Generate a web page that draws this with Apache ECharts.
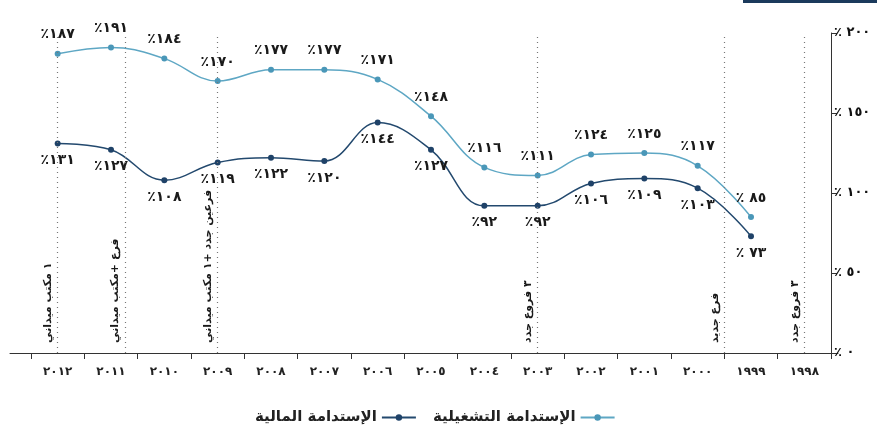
<!DOCTYPE html>
<html>
<head>
<meta charset="utf-8">
<script src="https://cdn.jsdelivr.net/npm/echarts@6/dist/echarts.min.js"></script>
<style>
html,body{margin:0;padding:0;background:#fff;}
#chart{width:877px;height:432px;}
</style>
</head>
<body>
<div id="chart"></div>
<script>
// ---- data ----
var years = [2012, 2011, 2010, 2009, 2008, 2007, 2006, 2005, 2004, 2003, 2002, 2001, 2000, 1999, 1998];
var operational = [187, 191, 184, 170, 177, 177, 171, 148, 116, 111, 124, 125, 117, 85, null]; // الإستدامة التشغيلية
var financial   = [131, 127, 108, 119, 122, 120, 144, 127, 92, 92, 106, 109, 103, 73, null];   // الإستدامة المالية
var yTicks = [0, 50, 100, 150, 200];
var eventPositions = [0, 1.26, 3, 9, 12.5, 14];
var eventTexts = ['١ مكتب ميداني', 'فرع +مكتب ميداني', 'فرعين جدد +١ مكتب ميداني', '٣ فروع جدد', 'فرع جديد', '٣ فروع جدد'];
var seriesNames = ['الإستدامة المالية', 'الإستدامة التشغيلية'];

function ar(n) {
  return String(n).replace(/\d/g, function (d) { return '٠١٢٣٤٥٦٧٨٩'[+d]; });
}
function pct(v, idx) {
  return '٪' + (idx === 13 ? ' ' : '') + ar(v);
}

var FONT = 'DejaVu Sans';
var chart = echarts.init(document.getElementById('chart'));
chart.setOption({
  animation: false,
  textStyle: { fontFamily: FONT },
  graphic: [{
    type: 'rect', right: 0, top: 0,
    shape: { width: 134, height: 3 },
    style: { fill: '#1b3a5c' }
  }],
  grid: [
    { left: 31, right: 46, top: 33, bottom: 79 },
    { left: 10, right: 39, top: 33, bottom: 79 }
  ],
  legend: {
    data: seriesNames,
    bottom: 2,
    left: 250,
    align: 'right',
    itemWidth: 34,
    itemHeight: 8,
    itemGap: 16,
    textStyle: { fontFamily: FONT, fontWeight: 'bold', fontSize: 15, color: '#222' }
  },
  xAxis: [{
    type: 'category',
    gridIndex: 0,
    data: years.map(ar),
    boundaryGap: true,
    axisLine: { show: false },
    axisTick: { show: true, length: 6, lineStyle: { color: '#333' } },
    axisLabel: { fontFamily: FONT, fontWeight: 'bold', fontSize: 12, color: '#222', margin: 13, interval: 0 }
  }, {
    type: 'value', gridIndex: 0, min: -0.5, max: 14.5, show: false
  }, {
    type: 'value', gridIndex: 1, min: 0, max: 1,
    axisLine: { show: true, onZero: false, lineStyle: { color: '#333', width: 1 } },
    axisTick: { show: false }, axisLabel: { show: false }, splitLine: { show: false }
  }],
  yAxis: [{
    type: 'value',
    gridIndex: 0,
    position: 'right',
    min: 0, max: 200, interval: 50,
    axisLine: { show: true, onZero: false, lineStyle: { color: '#333' } },
    axisTick: { show: true, length: 6, lineStyle: { color: '#333' } },
    splitLine: { show: false },
    axisLabel: {
      fontFamily: FONT, fontWeight: 'bold', fontSize: 13, color: '#111', margin: 3,
      formatter: function (v) { return yTicks.indexOf(v) >= 0 ? '٪ ' + ar(v) : ''; }
    }
  }, {
    type: 'value', gridIndex: 1, min: 0, max: 1, show: false
  }],
  series: [{
    name: seriesNames[0],
    type: 'line',
    xAxisIndex: 0, yAxisIndex: 0,
    data: financial,
    smooth: 0.4,
    symbol: 'circle', symbolSize: 6,
    lineStyle: { color: '#23496e', width: 1.5 },
    itemStyle: { color: '#1f4268' },
    label: {
      show: true, position: 'bottom', distance: 7,
      fontFamily: FONT, fontWeight: 'bold', fontSize: 14, color: '#1a1a1a',
      formatter: function (p) { return pct(p.value, p.dataIndex); }
    }
  }, {
    name: seriesNames[1],
    type: 'line',
    xAxisIndex: 0, yAxisIndex: 0,
    data: operational,
    smooth: 0.4,
    symbol: 'circle', symbolSize: 6,
    lineStyle: { color: '#5ea7c4', width: 1.5 },
    itemStyle: { color: '#4a97b8' },
    label: {
      show: true, position: 'top', distance: 9,
      fontFamily: FONT, fontWeight: 'bold', fontSize: 14, color: '#1a1a1a',
      formatter: function (p) { return pct(p.value, p.dataIndex); }
    }
  }, {
    type: 'line',
    xAxisIndex: 1, yAxisIndex: 0,
    data: [],
    silent: true,
    markLine: {
      silent: true,
      symbol: ['none', 'none'],
      animation: false,
      lineStyle: { color: '#777', type: [1, 4], width: 1.2 },
      label: {
        show: true, position: 'insideStartTop', distance: [10, 4],
        fontFamily: FONT, fontWeight: 'bold', fontSize: 11, color: '#1a1a1a'
      },
      data: eventPositions.map(function (x, i) {
        return { xAxis: x, label: { formatter: eventTexts[i] } };
      })
    }
  }]
});
</script>
</body>
</html>
